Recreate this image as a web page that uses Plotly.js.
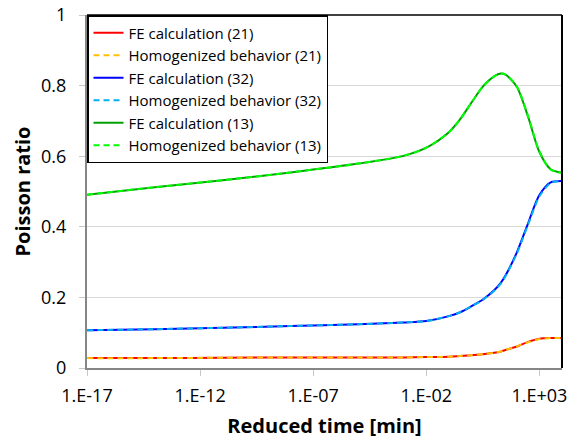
<!DOCTYPE html>
<html>
<head>
<meta charset="utf-8">
<script src="https://cdn.plot.ly/plotly-3.0.1.min.js"></script>
<style>html,body{margin:0;padding:0;background:#fff;}#chart{width:577px;height:443px;}</style>
</head>
<body>
<div id="chart"></div>
<script>
// Reduced time [min]
const time = [1e-17, 1e-14, 1e-11, 1e-8, 1e-5, 1e-3, 1e-2, 1e-1, 0.316, 1, 3.16, 10, 20, 31.6, 100, 316, 1000, 3162, 10000];

// Poisson ratio (21)
const fe21  = [0.028, 0.028, 0.029, 0.030, 0.030, 0.030, 0.031, 0.032, 0.034, 0.036, 0.039, 0.043, 0.047, 0.051, 0.061, 0.074, 0.083, 0.085, 0.085];
const hom21 = [0.028, 0.028, 0.029, 0.030, 0.030, 0.030, 0.031, 0.032, 0.034, 0.036, 0.039, 0.043, 0.047, 0.051, 0.061, 0.073, 0.082, 0.085, 0.085];

// Poisson ratio (32)
const fe32  = [0.107, 0.110, 0.114, 0.119, 0.124, 0.129, 0.133, 0.147, 0.158, 0.175, 0.194, 0.220, 0.242, 0.262, 0.327, 0.410, 0.490, 0.526, 0.530];
const hom32 = [0.107, 0.110, 0.114, 0.119, 0.124, 0.129, 0.133, 0.147, 0.158, 0.175, 0.193, 0.219, 0.240, 0.260, 0.324, 0.406, 0.486, 0.524, 0.530];

// Poisson ratio (13)
const fe13  = [0.491, 0.512, 0.532, 0.554, 0.579, 0.601, 0.624, 0.668, 0.705, 0.752, 0.797, 0.826, 0.834, 0.831, 0.797, 0.712, 0.612, 0.563, 0.553];
const hom13 = [0.491, 0.512, 0.532, 0.554, 0.579, 0.601, 0.624, 0.668, 0.705, 0.752, 0.797, 0.826, 0.834, 0.831, 0.798, 0.714, 0.614, 0.562, 0.553];

const names = ['FE calculation (21)', 'Homogenized behavior (21)', 'FE calculation (32)', 'Homogenized behavior (32)', 'FE calculation (13)', 'Homogenized behavior (13)'];
const colors = ['#ff0000', '#ffc000', '#0000ff', '#00b0f0', '#00a000', '#00ff00'];
const series = [fe21, hom21, fe32, hom32, fe13, hom13];

const xTickVals = [1e-17, 1e-12, 1e-7, 1e-2, 1e3];
const xTickText = ['1.E-17', '1.E-12', '1.E-07', '1.E-02', '1.E+03'];

const traces = series.map((ys, i) => ({
  x: time,
  y: ys,
  name: names[i],
  type: 'scatter',
  mode: 'lines',
  line: {color: colors[i], width: 2, shape: 'spline', smoothing: 0.8, dash: (i % 2 === 1) ? '6px,4px' : 'solid'}
}));

const layout = {
  width: 577,
  height: 443,
  margin: {l: 87, r: 15, t: 15, b: 75},
  paper_bgcolor: '#ffffff',
  plot_bgcolor: '#ffffff',
  font: {family: 'Open Sans, sans-serif', color: '#000000'},
  showlegend: true,
  legend: {
    x: 0, y: 1, xanchor: 'left', yanchor: 'top',
    bgcolor: '#ffffff', bordercolor: '#000000', borderwidth: 1.5,
    font: {family: 'Open Sans, sans-serif', size: 15, color: '#000000'},
    tracegroupgap: 0
  },
  xaxis: {
    type: 'log',
    range: [-17, 4],
    tickvals: xTickVals,
    ticktext: xTickText,
    tickfont: {size: 18, color: '#000000'},
    ticklabelstandoff: 4,
    showgrid: false,
    zeroline: false,
    showline: true, linecolor: '#868686', linewidth: 2,
    ticks: 'outside', ticklen: 6, tickcolor: '#c8c8c8', tickwidth: 1,
    title: {text: 'Reduced time [min]', font: {size: 20, color: '#000000', family: 'Open Sans, sans-serif', weight: 'bold'}, standoff: 13}
  },
  yaxis: {
    range: [0, 1],
    tickvals: [0, 0.2, 0.4, 0.6, 0.8, 1],
    ticktext: ['0', '0.2', '0.4', '0.6', '0.8', '1'],
    tickfont: {size: 18, color: '#000000'},
    ticklabelstandoff: 9,
    showgrid: true, gridcolor: '#d9d9d9', gridwidth: 1,
    zeroline: false,
    showline: true, linecolor: '#868686', linewidth: 2,
    ticks: 'outside', ticklen: 6, tickcolor: '#c8c8c8', tickwidth: 1,
    title: {text: 'Poisson ratio', font: {size: 20, color: '#000000', family: 'Open Sans, sans-serif', weight: 'bold'}, standoff: 5}
  },
  shapes: [
    {type: 'line', xref: 'paper', yref: 'paper', x0: 0, x1: 1, y0: 1, y1: 1, line: {color: '#404040', width: 2}},
    {type: 'line', xref: 'paper', yref: 'paper', x0: 1, x1: 1, y0: 0, y1: 1, line: {color: '#000000', width: 2}}
  ]
};

Plotly.newPlot('chart', traces, layout, {displayModeBar: false, staticPlot: true});
</script>
</body>
</html>
